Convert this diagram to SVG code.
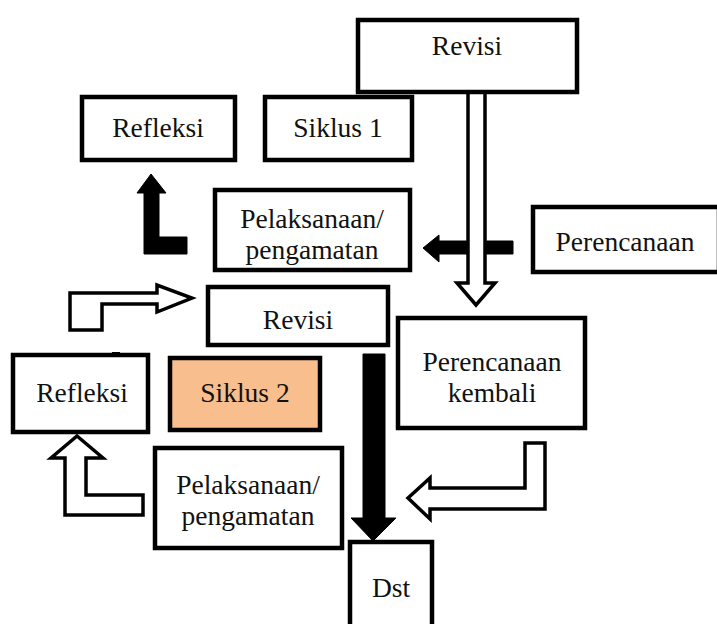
<svg xmlns="http://www.w3.org/2000/svg" width="717" height="624" viewBox="0 0 717 624">
<style>
.box{fill:#fff;stroke:#000;stroke-width:4.5}
.orange{fill:#F8BE8E}
.t{font-family:"Liberation Serif","Times New Roman",serif;font-size:27.5px;fill:#111;text-anchor:middle}
.hollow{fill:#fff;stroke:#000;stroke-width:3.5;stroke-linejoin:miter}
.solid{fill:#000;stroke:#000;stroke-width:1;stroke-linejoin:round}
</style>
<rect width="717" height="624" fill="#fff"/>
<g id="connectors">
  <path class="solid" d="M513,241 V254 H439 V262 L423,248 L439,235 V241 Z"/>
  <path class="hollow" d="M468,79 H485 V283 H495 L476,305 L457,283 H468 Z"/>
  <path class="solid" d="M151,174 L166,193 H159 V237 H187 V254 H144 V193 H137 Z"/>
  <path class="hollow" d="M70,293 H157 V285 L192,298 L157,312 V304 H102 V330 H70 Z"/>
  <rect x="112" y="352" width="8" height="4" fill="#000"/>
  <path class="solid" d="M363,354 H385 V518 H396 L373,541 L351,518 H363 Z"/>
  <path class="hollow" d="M525,443 H545 V509 H430 V519 L408,498 L430,478 V488 H525 Z"/>
  <path class="hollow" d="M77,436 L103,458 H86 V495 H143 V515 H65 V458 H51 Z"/>
</g>
<g id="revisi1"><rect class="box" x="358" y="20" width="219" height="72"/><text class="t" x="467" y="55">Revisi</text></g>
<g id="refleksi1"><rect class="box" x="82" y="97" width="153" height="63"/><text class="t" x="158" y="137">Refleksi</text></g>
<g id="siklus1"><rect class="box" x="265" y="97" width="147" height="63"/><text class="t" x="338" y="137">Siklus 1</text></g>
<g id="pelaksanaan1"><rect class="box" x="215" y="190" width="195" height="80"/><text class="t" x="312" y="228">Pelaksanaan/</text><text class="t" x="312" y="259">pengamatan</text></g>
<g id="perencanaan"><rect class="box" x="533" y="207" width="186" height="65"/><text class="t" x="625" y="251">Perencanaan</text></g>
<g id="revisi2"><rect class="box" x="208" y="287" width="180" height="58"/><text class="t" x="298" y="329">Revisi</text></g>
<g id="perencanaan-kembali"><rect class="box" x="398" y="318" width="187" height="110"/><text class="t" x="492" y="371">Perencanaan</text><text class="t" x="492" y="402">kembali</text></g>
<g id="refleksi2"><rect class="box" x="13" y="355" width="135" height="77"/><text class="t" x="82" y="402">Refleksi</text></g>
<g id="siklus2"><rect class="box orange" x="170" y="358" width="150" height="72"/><text class="t" x="245" y="402">Siklus 2</text></g>
<g id="pelaksanaan2"><rect class="box" x="155" y="448" width="187" height="100"/><text class="t" x="248" y="494">Pelaksanaan/</text><text class="t" x="248" y="525">pengamatan</text></g>
<g id="dst"><rect class="box" x="350" y="542" width="82" height="90"/><text class="t" x="391" y="597">Dst</text></g>
</svg>
